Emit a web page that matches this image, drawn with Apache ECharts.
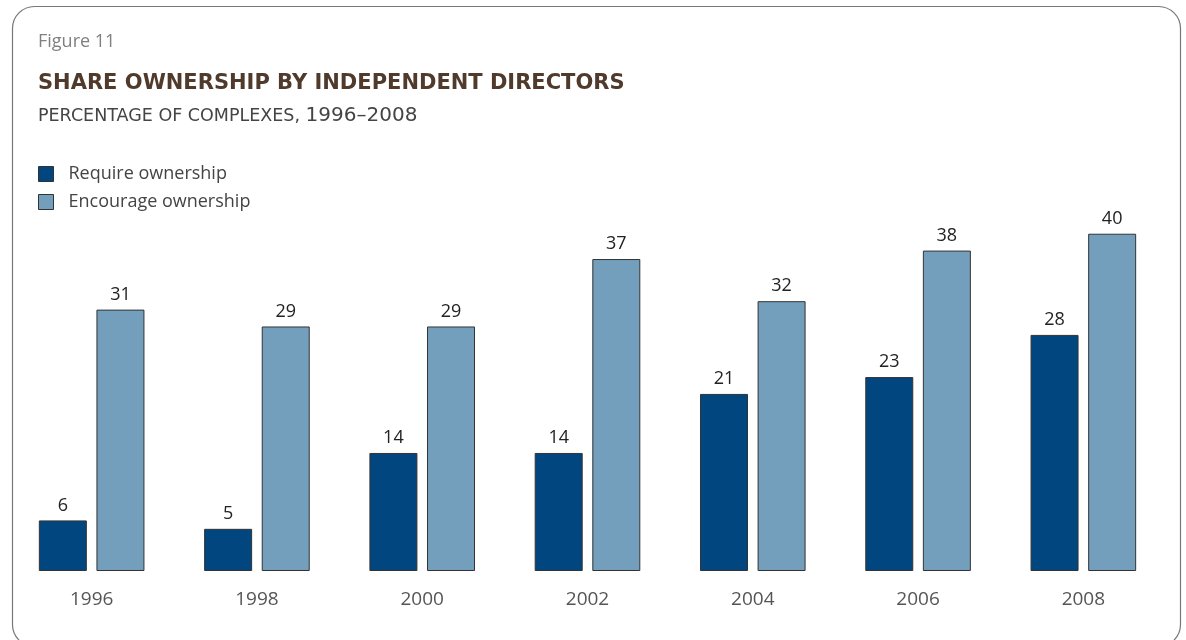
<!DOCTYPE html>
<html>
<head>
<meta charset="utf-8">
<script src="https://cdn.jsdelivr.net/npm/echarts@6/dist/echarts.min.js"></script>
<style>
  html, body { margin: 0; padding: 0; background: #ffffff; }
  #chart { width: 1186px; height: 640px; }
</style>
</head>
<body>
<div id="chart"></div>
<script>
// Survey years and share of fund complexes (%) for each ownership policy
const years = ['1996', '1998', '2000', '2002', '2004', '2006', '2008'];
const requireOwnership = [6, 5, 14, 14, 21, 23, 28];
const encourageOwnership = [31, 29, 29, 37, 32, 38, 40];
const seriesNames = ['Require ownership', 'Encourage ownership'];

const FONT = '"Open Sans", "Noto Sans", sans-serif';
const WIDE = '"DejaVu Sans", "Open Sans", sans-serif';
const DARK = '#01467f';
const LIGHT = '#739fbc';

const chart = echarts.init(document.getElementById('chart'), null, { renderer: 'canvas' });

function barSeries(name, data, color) {
  return {
    name: name,
    type: 'bar',
    data: data,
    barWidth: 48,
    barGap: '20%',
    itemStyle: { color: color, borderColor: '#333333', borderWidth: 1 },
    label: {
      show: true,
      position: 'top',
      distance: 6,
      color: '#222222',
      fontFamily: FONT,
      fontSize: 18
    },
    emphasis: { disabled: true }
  };
}

chart.setOption({
  animation: false,
  backgroundColor: '#ffffff',
  graphic: [
    {
      type: 'rect',
      shape: { x: 12.5, y: 6.5, width: 1168, height: 640, r: 22 },
      style: { fill: 'none', stroke: '#777777', lineWidth: 1.2 },
      silent: true
    },
    {
      type: 'text',
      left: 38, top: 33,
      style: { text: 'Figure 11', fill: '#808080', font: '18px ' + FONT }
    }
  ],
  title: {
    left: 38,
    top: 73,
    padding: 0,
    text: 'SHARE OWNERSHIP BY INDEPENDENT DIRECTORS',
    textStyle: {
      color: '#4f3a2b',
      fontFamily: WIDE,
      fontWeight: 'bold',
      fontSize: 21
    },
    subtext: '{a|PERCENTAGE OF COMPLEXES, }{b|1996–2008}',
    itemGap: 12,
    subtextStyle: {
      rich: {
        a: { color: '#444444', fontFamily: WIDE, fontSize: 17.5 },
        b: { color: '#444444', fontFamily: WIDE, fontSize: 20 }
      }
    }
  },
  legend: {
    orient: 'vertical',
    left: 38,
    top: 165,
    padding: 0,
    itemWidth: 15,
    itemHeight: 15,
    itemGap: 10,
    icon: 'rect',
    selectedMode: false,
    data: seriesNames,
    textStyle: { color: '#444444', fontFamily: FONT, fontSize: 18, padding: [0, 0, 0, 10] },
    itemStyle: { borderColor: '#333333', borderWidth: 1 }
  },
  grid: { left: 9, right: 20, top: 200, bottom: 69, containLabel: false },
  xAxis: {
    type: 'category',
    data: years,
    axisLine: { show: false },
    axisTick: { show: false },
    axisLabel: { color: '#555555', fontFamily: FONT, fontSize: 19, margin: 19 }
  },
  yAxis: {
    type: 'value',
    min: 0,
    max: 44,
    show: false,
    splitLine: { show: false }
  },
  series: [
    barSeries(seriesNames[0], requireOwnership, DARK),
    barSeries(seriesNames[1], encourageOwnership, LIGHT)
  ]
});
</script>
</body>
</html>
